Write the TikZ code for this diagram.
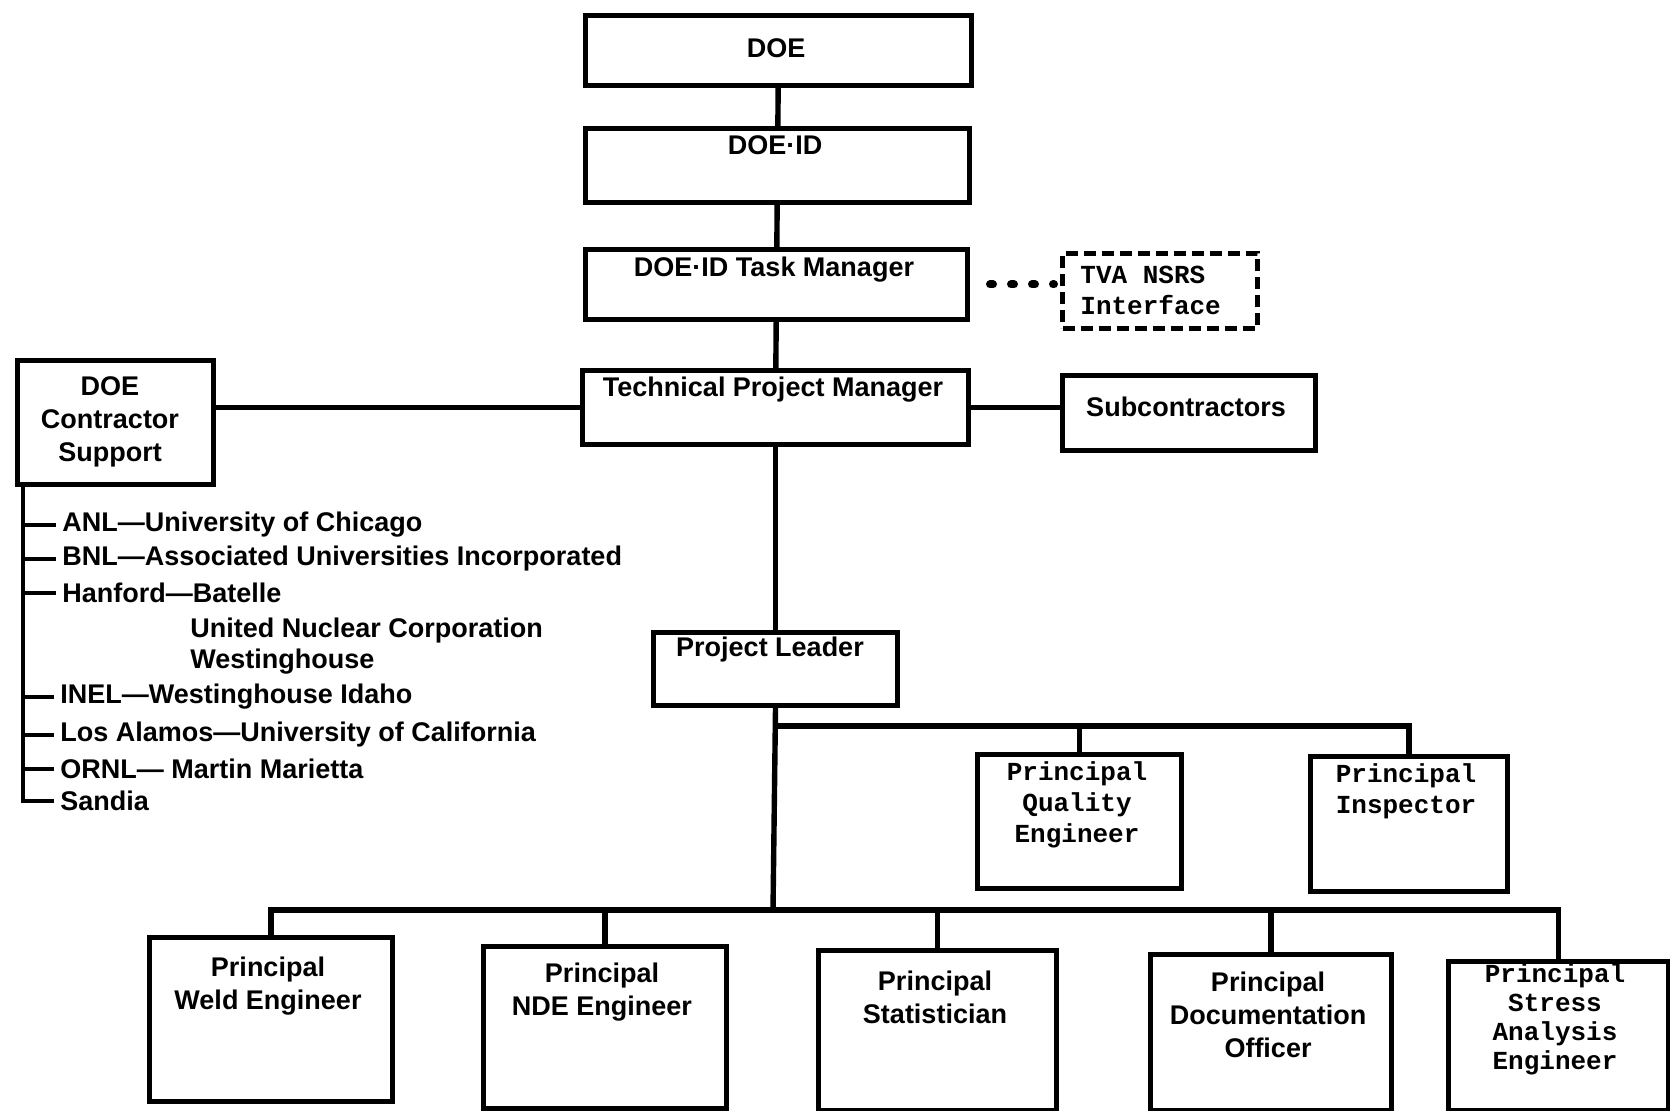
\documentclass[tikz,border=0pt]{standalone}
\usepackage{fontspec}
\setmainfont{Liberation Sans}
\newfontfamily\typefont{Liberation Mono}

\begin{document}
\begin{tikzpicture}[x=0.5pt, y=-0.5pt,
    box/.style={draw, line width=2.5pt, anchor=north west, inner sep=0pt},
    size/.style 2 args={minimum width=#1*0.5pt, minimum height=#2*0.5pt},
    txt/.style={font=\bfseries\fontsize{13.5}{16.5}\selectfont, align=center, inner sep=0pt},
    mono/.style={font=\typefont\bfseries\fontsize{13}{15.5}\selectfont, align=center, inner sep=0pt},
    item/.style={font=\bfseries\fontsize{13.5}{16}\selectfont, anchor=west, inner sep=0pt},
    wire/.style={line width=2.7pt},
    dotline/.style={line width=4pt, line cap=round, dash pattern=on 1.5pt off 9pt}]
    \useasboundingbox (0,0) rectangle (1670,1111);

    % chain of command
    \node[box, size={386}{70}] (doe) at (583,13) {};
    \node[box, size={384}{74}] (doeid) at (583,126) {};
    \node[box, size={382}{70}] (tm) at (583,247) {};
    \node[box, size={386}{74}] (tpm) at (580,368) {};
    \node[box, size={244}{73}] (pl) at (651,630) {};
    \node[box, size={196}{124}] (dcs) at (15,358) {};
    \node[box, size={253}{75}] (sub) at (1060,373) {};
    \node[box, size={195}{75}, dash pattern=on 6pt off 3pt] (tva) at (1060,251) {};

    \node[txt] (doe-t) at (776,48) {DOE};
    \node[txt] (doeid-t) at (775,145) {DOE·ID};
    \node[txt] (tm-t) at (774,270) {DOE·ID Task Manager};
    \node[txt] (tpm-t) at (773,390) {Technical Project Manager};
    \node[txt] (pl-t) at (770,650) {Project Leader};
    \node[txt] (dcs-t) at (110,422) {DOE\\Contractor\\Support};
    \node[txt] (sub-t) at (1186,407) {Subcontractors};
    \node[mono, anchor=west, align=left] (tva-t) at (1080,290) {TVA NSRS\\Interface};

    % principals
    \node[box, size={204}{134}] (pqe) at (975,752) {};
    \node[box, size={197}{135}] (pi) at (1308,754) {};
    \node[box, size={243}{164}] (weld) at (147,935) {};
    \node[box, size={243}{162}] (nde) at (481,944) {};
    \node[box, size={238}{160}] (stat) at (816,948) {};
    \node[box, size={241}{156}] (doc) at (1148,952) {};
    \node[box, size={220}{149}] (stress) at (1446,959) {};

    \node[mono] (pqe-t) at (1077,805) {Principal\\Quality\\Engineer};
    \node[mono] (pi-t) at (1406,791) {Principal\\Inspector};
    \node[txt] (weld-t) at (268,986) {Principal\\Weld Engineer};
    \node[txt] (nde-t) at (602,992) {Principal\\NDE Engineer};
    \node[txt] (stat-t) at (935,997) {Principal\\Statistician};
    \node[txt] (doc-t) at (1268,1015) {Principal\\Documentation\\Officer};
    \node[mono, font=\typefont\bfseries\fontsize{13}{14.5}\selectfont] (stress-t) at (1555,1019) {Principal\\Stress\\Analysis\\Engineer};

    % contractor list
    \node[item] (anl) at (62,525) {ANL---University of Chicago};
    \node[item] (bnl) at (62,559) {BNL---Associated Universities Incorporated};
    \node[item] (hanford) at (62,593) {Hanford---Batelle};
    \node[item] (unc) at (190,631) {United Nuclear Corporation};
    \node[item] (westh) at (190,662) {Westinghouse};
    \node[item] (inel) at (60,697) {INEL---Westinghouse Idaho};
    \node[item] (lanl) at (60,735) {Los Alamos---University of California};
    \node[item] (ornl) at (60,769) {ORNL--- Martin Marietta};
    \node[item] (sandia) at (60,801) {Sandia};

    \coordinate (rail) at ([xshift=4pt]dcs.south west);
    \coordinate (bus1) at (773,726);
    \coordinate (bus2) at (773,910);

    \draw[wire] (doe) -- (doeid);
    \draw[wire] (doeid) -- (tm);
    \draw[wire] (tm) -- (tpm);
    \draw[wire] (tpm) -- (pl);
    \draw[wire] (tpm.west) -- (tpm.west -| dcs.east);
    \draw[wire] (tpm.east) -- (tpm.east -| sub.west);
    \draw[dotline] ([xshift=10pt]tm.east) -- ([xshift=-3pt]tm.east -| tva.west);
    \draw[wire] (pl.south) -- (bus2);
    \foreach \n in {pqe,pi}
        \draw[wire] (bus1) -| (\n.north);
    \foreach \n in {weld,nde,stat,doc,stress}
        \draw[wire] (bus2) -| (\n.north);
    \draw[line width=2.2pt] (rail) |- ([xshift=-3pt]sandia.west);
    \foreach \n in {anl,bnl,hanford,inel,lanl,ornl}
        \draw[line width=2.2pt] (rail |- \n.west) -- ([xshift=-3pt]\n.west);
\end{tikzpicture}
\end{document}
